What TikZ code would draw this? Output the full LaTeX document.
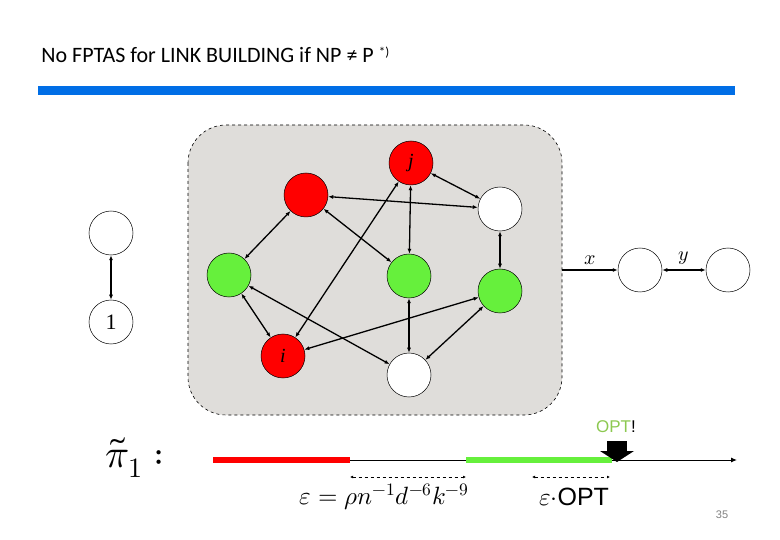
\documentclass[tikz,border=0pt]{standalone}
\usepackage{fontspec}
\usepackage{unicode-math}
\setmainfont{Liberation Serif}
\setmathfont{Latin Modern Math}
\newfontfamily\calib{Carlito}
\newfontfamily\arial{Liberation Sans}
\usetikzlibrary{arrows.meta}
\definecolor{vred}{RGB}{255,0,0}
\definecolor{vgreen}{RGB}{102,240,60}
\definecolor{optgreen}{RGB}{140,200,80}
\definecolor{boxgray}{RGB}{223,221,218}
\definecolor{barblue}{RGB}{0,110,230}
\tikzset{every picture/.style={line width=0.75pt}}
\tikzset{
  vtx/.style={circle,draw,line width=0.5pt,minimum size=44pt,inner sep=0pt,font=\fontsize{20}{20}\selectfont\itshape},
  red vtx/.style={vtx,fill=vred},
  green vtx/.style={vtx,fill=vgreen},
  white vtx/.style={vtx,fill=white},
  link/.style={line width=1.3pt,{Latex[length=5pt,width=4pt]}-{Latex[length=5pt,width=4pt]}},
  span/.style={dashed,line width=0.9pt,{Latex[length=3pt,width=3pt]}-{Latex[length=3pt,width=3pt]}}
}
\begin{document}
\begin{tikzpicture}[x=1pt,y=1pt,yscale=-1,xscale=1]
\useasboundingbox (0,0) rectangle (780,540);

% Title and bar
\node (title) [anchor=west,inner sep=0pt,font=\calib\fontsize{22}{22}\selectfont] at (41,55) {No FPTAS for LINK BUILDING if NP ≠ P \raisebox{6pt}{\fontsize{13}{13}\selectfont *)}};
\fill [barblue] (38,86) rectangle (735,95);

% Gadget box
\draw [dashed,fill=boxgray,line width=0.6pt,rounded corners=38pt] (188,125) rectangle (562,415);
\coordinate (boxout) at (562,270);

% Vertices inside
\node (r1) [red vtx] at (306,195) {};
\node (j) [red vtx] at (411,163) {j};
\node (w1) [white vtx] at (500,209) {};
\node (g1) [green vtx] at (229,275) {};
\node (g2) [green vtx] at (409,276) {};
\node (g3) [green vtx] at (500,291) {};
\node (i) [red vtx] at (283,356) {i};
\node (w2) [white vtx] at (409,375) {};

% Links
\draw [link] (r1) -- (w1);
\draw [link] (j) -- (w1);
\draw [link] (r1) -- (g1);
\draw [link] (r1) -- (g2);
\draw [link] (j) -- (g2);
\draw [link] (j) -- (i);
\draw [link] (w1) -- (g3);
\draw [link] (g1) -- (i);
\draw [link] (g1) -- (w2);
\draw [link] (g2) -- (w2);
\draw [link] (g3) -- (i);
\draw [link] (g3) -- (w2);

% Left pair
\node (top) [white vtx] at (111,233) {};
\node (one) [white vtx,font=\fontsize{22}{22}\selectfont] at (111,322) {1};
\draw [link] (one) -- (top);

% Right path
\node (x) [white vtx] at (640,270) {};
\node (y) [white vtx] at (728,270) {};
\draw [line width=1.3pt,-{Latex[length=5pt,width=4pt]}] (boxout) -- node[above=1pt,font=\fontsize{20}{20}\selectfont] {$x$} (x);
\draw [line width=1.3pt,{Latex[length=5pt,width=4pt]}-{Latex[length=5pt,width=4pt]}] (x) -- node[above=1pt,font=\fontsize{20}{20}\selectfont] {$y$} (y);

% Number line
\node (pi) [font=\fontsize{40}{40}\selectfont] at (135,458) {$\tilde{\pi}_1:$};
\coordinate (ax0) at (213,460);
\coordinate (ax1) at (737,460);
\draw [line width=1pt,-{Latex[length=6pt,width=5pt]}] (ax0) -- (ax1);
\draw [vred,line width=6pt] (213,460) -- (350,460);
\draw [vgreen,line width=6pt] (466,460) -- (612,460);
\fill (607,441) rectangle (627,451);
\fill (600,451) -- (634,451) -- (617,462) -- cycle;
\node (opt) [font=\arial\fontsize{17}{17}\selectfont] at (616,427) {\textcolor{optgreen}{OPT}!};

% Spans
\coordinate (s1a) at (350,477);
\coordinate (s1b) at (466,477);
\coordinate (s2a) at (532,477);
\coordinate (s2b) at (610,477);
\draw [span] (s1a) -- (s1b);
\draw [span] (s2a) -- (s2b);
\node (eps) [font=\fontsize{25}{25}\selectfont] at (384,497) {$\varepsilon=\rho n^{-1}d^{-6}k^{-9}$};
\node (epsopt) [font=\fontsize{25}{25}\selectfont] at (574,497) {$\varepsilon\cdot$\arial OPT};

% Page number
\node (page) [font=\arial\fontsize{11}{11}\selectfont,text=gray] at (722,515) {35};
\end{tikzpicture}
\end{document}
